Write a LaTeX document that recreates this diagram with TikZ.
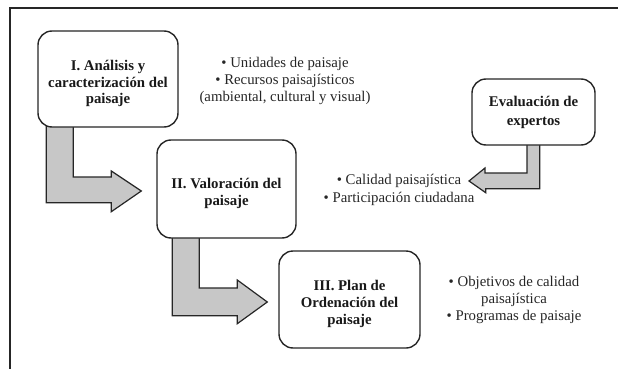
\documentclass[tikz,border=0pt]{standalone}
\usepackage{fontspec}
\setmainfont{Liberation Serif}
\usetikzlibrary{calc,backgrounds}
\begin{document}
\begin{tikzpicture}[x=1pt,y=-1pt,
  box/.style={draw=black!85, line width=1.4pt, rounded corners=14pt, fill=white, inner sep=0pt},
  boxtext/.style={align=center, inner sep=0pt, font=\fontsize{14.8}{16.8}\selectfont\bfseries, text=black!90},
  barrow/.style={draw=black!85, line width=1.2pt, fill=black!22, line join=miter},
  note/.style={align=center, font=\fontsize{14.8}{17}\selectfont, text=black!85, inner sep=0pt},
]
\useasboundingbox (0,0) rectangle (618,369);
\draw[line width=1.3pt, black!85] (10,369) -- (10,8) -- (618,8);

% boxes
\node[box, minimum width=140pt, minimum height=96pt,
  label={[boxtext, name=t1, yshift=-4.5pt]center:I. Análisis y\\caracterización del\\paisaje}] (b1) at (108,79) {};
\node[box, minimum width=139pt, minimum height=98pt,
  label={[boxtext, name=t2, yshift=-4.5pt]center:II. Valoración del\\paisaje}] (b2) at (226.5,189) {};
\node[box, minimum width=141pt, minimum height=97pt,
  label={[boxtext, name=t3, yshift=-4.5pt]center:III. Plan de\\Ordenación del\\paisaje}] (b3) at (349.5,299.5) {};
\node[box, minimum width=123pt, minimum height=66pt,
  label={[boxtext, name=t4, font=\fontsize{14.8}{19}\selectfont\bfseries]center:Evaluación de\\expertos}] (b4) at (533.5,112) {};

% notes
\node[note] (nA) at (285,81) {• Unidades de paisaje\\• Recursos paisajísticos\\(ambiental, cultural y visual)};
\node[note, font=\fontsize{14.8}{18}\selectfont] (nB) at (399,190) {• Calidad paisajística\\• Participación ciudadana};
\node[note] (nC) at (514,300) {• Objetivos de calidad\\paisajística\\• Programas de paisaje};
\coordinate (tipB) at (469,181);

% block arrows (under boxes)
\begin{scope}[on background layer]
\draw[barrow] ($(b1.south west)+(9,-2)$) -- ++(0,77) -- ++(65,0) -- ++(0,9)
  -- ($(b2.west)+(-15,2)$) -- ++(-30,-20) -- ++(0,6) -- ++(-38,0) -- ++(0,-51) -- cycle;
\draw[barrow] ($(b2.south west)+(16,-2)$) -- ++(0,79) -- ++(65,0) -- ++(0,8)
  -- ($(b3.west)+(-11,2.5)$) -- ++(-30,-22) -- ++(0,8) -- ++(-38,0) -- ++(0,-52) -- cycle;
\draw[barrow] ($(b4.south east)+(-56,-2)$) -- ++(0,45) -- ++(-54,0) -- ++(0,4)
  -- (tipB) -- ++(16,-13) -- ++(0,5) -- ++(42,0) -- ++(0,-30) -- cycle;
\end{scope}
\end{tikzpicture}
\end{document}
